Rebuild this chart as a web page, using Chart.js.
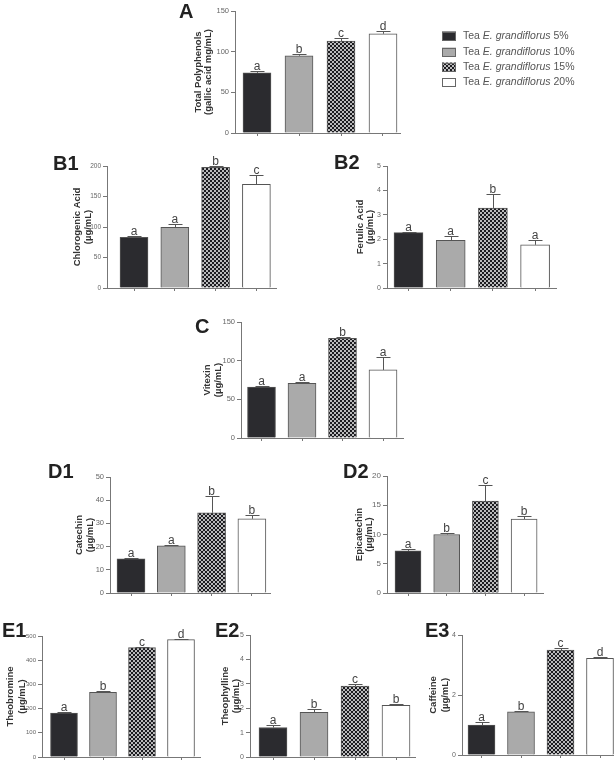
<!DOCTYPE html>
<html>
<head>
<meta charset="utf-8">
<script src="https://cdn.jsdelivr.net/npm/chart.js@4.4.0/dist/chart.umd.min.js"></script>
<style>
html, body { margin: 0; padding: 0; background: #fff; }
body { width: 614px; height: 762px; position: relative; overflow: hidden; }
canvas { position: absolute; }
</style>
</head>
<body>
<script>
// groups: tea E. grandiflorus concentration
const groups = ['5%', '10%', '15%', '20%'];
const xPositions = [1, 2, 3, 4];

const polyphenols = [74, 95, 113, 122];
const polyphenolsErr = [2, 1.7, 4, 4];
const polyphenolsLetters = ['a', 'b', 'c', 'd'];

const chlorogenic = [83, 99.5, 198, 170];
const chlorogenicErr = [3, 6, 2, 15];
const chlorogenicLetters = ['a', 'a', 'b', 'c'];

const ferulic = [2.27, 1.95, 3.28, 1.77];
const ferulicErr = [0.02, 0.18, 0.57, 0.2];
const ferulicLetters = ['a', 'a', 'b', 'a'];

const vitexin = [66, 70.7, 129, 88];
const vitexinErr = [0.8, 1.5, 1.2, 17];
const vitexinLetters = ['a', 'a', 'b', 'a'];

const catechin = [14.7, 20.3, 34.6, 32];
const catechinErr = [0.3, 0.4, 7.2, 1.7];
const catechinLetters = ['a', 'a', 'b', 'b'];

const epicatechin = [7.2, 10.0, 15.7, 12.65];
const epicatechinErr = [0.3, 0.2, 2.7, 0.55];
const epicatechinLetters = ['a', 'b', 'c', 'b'];

const theobromine = [182, 267, 452, 485];
const theobromineErr = [3, 4, 2, 2];
const theobromineLetters = ['a', 'b', 'c', 'd'];

const theophylline = [1.21, 1.83, 2.91, 2.12];
const theophyllineErr = [0.12, 0.12, 0.08, 0.06];
const theophyllineLetters = ['a', 'b', 'c', 'b'];

const caffeine = [1.0, 1.44, 3.5, 3.22];
const caffeineErr = [0.11, 0.03, 0.06, 0.06];
const caffeineLetters = ['a', 'b', 'c', 'd'];

const FONT = '"Liberation Sans", Arial, sans-serif';

// dotted hatch for the 15% bars
const tile = document.createElement('canvas');
tile.width = 4; tile.height = 4;
const tctx = tile.getContext('2d');
tctx.fillStyle = '#1c1c20';
tctx.fillRect(0, 0, 4, 4);
tctx.fillStyle = '#ffffff';
[[1, 1], [3, 3]].forEach(([cx, cy]) => {
  tctx.beginPath(); tctx.arc(cx, cy, 0.95, 0, Math.PI * 2); tctx.fill();
});
const hatch = tctx.createPattern(tile, 'repeat');

const fills = ['#2b2b2f', '#aaaaaa', hatch, '#ffffff'];

const extras = {
  id: 'extras',
  afterDatasetsDraw(chart, args, o) {
    const ctx = chart.ctx;
    const y = chart.scales.y;
    const meta = chart.getDatasetMeta(0);
    ctx.save();
    meta.data.forEach((bar, i) => {
      const top = Math.round(y.getPixelForValue(o.values[i] + o.errs[i])) + 0.5;
      const x = Math.round(bar.x) + 0.5;
      ctx.strokeStyle = '#555';
      ctx.lineWidth = 1;
      ctx.beginPath();
      ctx.moveTo(x, bar.y); ctx.lineTo(x, top);
      ctx.moveTo(x - 7, top); ctx.lineTo(x + 7, top);
      ctx.stroke();
      ctx.fillStyle = '#444';
      ctx.font = '12px ' + FONT;
      ctx.textAlign = 'center';
      ctx.textBaseline = 'alphabetic';
      ctx.fillText(o.letters[i], bar.x, top - 2);
    });

    // panel label
    ctx.fillStyle = '#222';
    ctx.font = 'bold 20px ' + FONT;
    ctx.textAlign = 'left';
    ctx.fillText(o.label, o.labelPos[0] - o.ox, o.labelPos[1] - o.oy);

    // y axis title
    const cy = (chart.chartArea.top + chart.chartArea.bottom) / 2;
    ctx.translate(o.titleX - o.ox, cy);
    ctx.rotate(-Math.PI / 2);
    ctx.fillStyle = '#333';
    ctx.font = 'bold 9.5px ' + FONT;
    ctx.textAlign = 'center';
    ctx.textBaseline = 'middle';
    o.title.forEach((t, k) => ctx.fillText(t, 0, k * o.titleGap));
    ctx.restore();

    if (o.legend) {
      ctx.save();
      const rows = [36, 52, 67, 82];
      rows.forEach((ry, i) => {
        const yy = ry - o.oy;
        const bx = 442 - o.ox;
        ctx.fillStyle = fills[i];
        ctx.fillRect(bx, yy - 4.5, 14, 9);
        ctx.strokeStyle = '#666';
        ctx.strokeRect(bx + 0.5, Math.round(yy - 4.5) + 0.5, 13, 8);
        let tx = 463 - o.ox;
        ctx.fillStyle = '#555';
        ctx.textBaseline = 'middle';
        ctx.textAlign = 'left';
        ctx.font = '10.5px ' + FONT;
        ctx.fillText('Tea ', tx, yy); tx += ctx.measureText('Tea ').width;
        ctx.font = 'italic 10.5px ' + FONT;
        ctx.fillText('E. grandiflorus', tx, yy); tx += ctx.measureText('E. grandiflorus ').width;
        ctx.font = '10.5px ' + FONT;
        ctx.fillText(groups[i], tx, yy);
      });
      ctx.restore();
    }
  }
};

const panels = [
  { label: 'A', labelPos: [179, 18], title: ['Total Polyphenols', '(gallic acid mg/mL)'], titleX: 198, titleGap: 10.5,
    values: polyphenols, errs: polyphenolsErr, letters: polyphenolsLetters, tickSize: 7.5,
    area: [235, 11, 400, 133], c1: 257, step: 42, barW: 28, yMax: 150, yStep: 50, legend: true, padRight: 214 },
  { label: 'B1', labelPos: [53, 170], title: ['Chlorogenic Acid', '(µg/mL)'], titleX: 77, titleGap: 11,
    values: chlorogenic, errs: chlorogenicErr, letters: chlorogenicLetters, tickSize: 6.5,
    area: [107, 166, 276, 288], c1: 134, step: 40.8, barW: 28, yMax: 200, yStep: 50 },
  { label: 'B2', labelPos: [334, 169], title: ['Ferulic Acid', '(µg/mL)'], titleX: 360, titleGap: 10,
    values: ferulic, errs: ferulicErr, letters: ferulicLetters, tickSize: 7,
    area: [387, 166, 556, 288], c1: 408.5, step: 42.2, barW: 29, yMax: 5, yStep: 1 },
  { label: 'C', labelPos: [195, 333], title: ['Vitexin', '(µg/mL)'], titleX: 207, titleGap: 11,
    values: vitexin, errs: vitexinErr, letters: vitexinLetters, tickSize: 7.5,
    area: [241, 322, 403, 438], c1: 261.5, step: 40.5, barW: 28, yMax: 150, yStep: 50 },
  { label: 'D1', labelPos: [48, 478], title: ['Catechin', '(µg/mL)'], titleX: 79, titleGap: 11,
    values: catechin, errs: catechinErr, letters: catechinLetters, tickSize: 7.5,
    area: [110, 477, 270, 593], c1: 131, step: 40.3, barW: 28, yMax: 50, yStep: 10 },
  { label: 'D2', labelPos: [343, 478], title: ['Epicatechin', '(µg/mL)'], titleX: 359, titleGap: 10,
    values: epicatechin, errs: epicatechinErr, letters: epicatechinLetters, tickSize: 8,
    area: [387, 476, 543, 593], c1: 408, step: 38.7, barW: 26, yMax: 20, yStep: 5 },
  { label: 'E1', labelPos: [2, 637], title: ['Theobromine', '(µg/mL)'], titleX: 10, titleGap: 12,
    values: theobromine, errs: theobromineErr, letters: theobromineLetters, tickSize: 6,
    area: [42, 636, 200, 757], c1: 64, step: 39, barW: 27, yMax: 500, yStep: 100 },
  { label: 'E2', labelPos: [215, 637], title: ['Theophylline', '(µg/mL)'], titleX: 225, titleGap: 11,
    values: theophylline, errs: theophyllineErr, letters: theophyllineLetters, tickSize: 7,
    area: [250, 635, 415, 757], c1: 273, step: 41, barW: 28, yMax: 5, yStep: 1 },
  { label: 'E3', labelPos: [425, 637], title: ['Caffeine', '(µg/mL)'], titleX: 433, titleGap: 12,
    values: caffeine, errs: caffeineErr, letters: caffeineLetters, tickSize: 7,
    area: [462, 635, 614, 755], c1: 481.5, step: 39.5, barW: 27, yMax: 4, yStep: 2 }
];

const YW = 75, PT = 30, XH = 12;

panels.forEach(p => {
  const PR = p.padRight || 10;
  const w = p.area[2] - p.area[0] + YW + PR;
  const h = p.area[3] - p.area[1] + PT + XH;
  const ox = p.area[0] - YW, oy = p.area[1] - PT;
  const canvas = document.createElement('canvas');
  canvas.width = w; canvas.height = h;
  canvas.style.left = ox + 'px';
  canvas.style.top = oy + 'px';
  canvas.style.width = w + 'px';
  canvas.style.height = h + 'px';
  document.body.appendChild(canvas);

  new Chart(canvas, {
    type: 'bar',
    data: {
      datasets: [{
        data: xPositions.map((x, i) => ({ x: x, y: p.values[i] })),
        backgroundColor: fills,
        borderColor: '#555',
        borderWidth: 1,
        barThickness: p.barW
      }]
    },
    options: {
      responsive: false,
      animation: false,
      devicePixelRatio: 1,
      layout: { padding: { left: 0, top: PT, right: PR, bottom: 0 } },
      plugins: {
        legend: { display: false },
        tooltip: { enabled: false },
        extras: Object.assign({ ox: ox, oy: oy }, p)
      },
      scales: {
        x: {
          type: 'linear',
          offset: false,
          min: 1 + (p.area[0] - p.c1) / p.step,
          max: 1 + (p.area[2] - p.c1) / p.step,
          afterBuildTicks: s => { s.ticks = xPositions.map(v => ({ value: v })); },
          afterFit: s => { s.height = XH; },
          grid: { drawOnChartArea: false, offset: false, tickLength: 3, color: '#777' },
          border: { color: '#777' },
          ticks: { display: false }
        },
        y: {
          min: 0,
          max: p.yMax,
          afterFit: s => { s.width = YW; },
          ticks: { stepSize: p.yStep, color: '#666', padding: 2, font: { size: p.tickSize, family: FONT } },
          grid: { drawOnChartArea: false, tickLength: 4, color: '#777' },
          border: { color: '#777' }
        }
      }
    },
    plugins: [extras]
  });
});
</script>
</body>
</html>
